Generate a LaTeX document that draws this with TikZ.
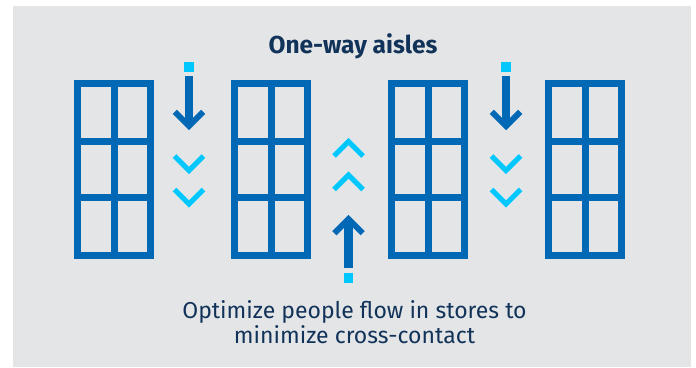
\documentclass[tikz,border=0pt]{standalone}
\usepackage{fontspec}
\setmainfont{Fira Sans}
\usetikzlibrary{calc}
\definecolor{bggray}{HTML}{E4E5E7}
\definecolor{shelfblue}{HTML}{0068B5}
\definecolor{lightcyan}{HTML}{00C7FD}
\definecolor{navytext}{HTML}{123359}
\tikzset{
  x=1pt, y=-1pt,
  shelf/.style={draw=shelfblue, line width=7pt, minimum width=73pt, minimum height=172pt, inner sep=0pt, outer sep=0pt},
  shelfbar/.style={draw=shelfblue, line width=7pt},
  chev/.style={draw=lightcyan, line width=5pt, miter limit=10},
  headchev/.style={draw=shelfblue, line width=6pt, miter limit=10},
  shaft/.style={draw=shelfblue, line width=8.3pt},
  dotsq/.style={fill=lightcyan},
  downflow/.pic={
    \fill[dotsq] (-4.6,62) rectangle (4.6,71.7);
    \draw[shaft] (0,76) -- (0,126);
    \draw[headchev] (-14.2,111.8) -- (0,126) -- (14.2,111.8);
    \draw[chev] (-14.5,156) -- (0,170.5) -- (14.5,156);
    \draw[chev] (-14.5,189.5) -- (0,204) -- (14.5,189.5);
  },
  upflow/.pic={
    \draw[chev] (-14.5,156) -- (0,141.5) -- (14.5,156);
    \draw[chev] (-14.5,189.5) -- (0,175) -- (14.5,189.5);
    \draw[headchev] (-14.2,233.2) -- (0,219) -- (14.2,233.2);
    \draw[shaft] (0,219) -- (0,268.3);
    \fill[dotsq] (-4.6,273.3) rectangle (4.6,283.3);
  },
  titletext/.style={font=\fontsize{24.5}{28}\selectfont\bfseries, text=navytext, inner sep=0pt},
  bodytext/.style={font=\fontsize{23}{25}\selectfont, text=navytext, align=center, inner sep=0pt}
}
\begin{document}
\begin{tikzpicture}
\useasboundingbox (0,0) rectangle (696,367);
\fill[bggray] (13,6) rectangle (691,367);
\foreach \i/\x in {1/114,2/271,3/428,4/585}{
  \node[shelf] (s\i) at (\x,169.5) {};
  \draw[shelfbar] (s\i.north) -- (s\i.south);
  \draw[shelfbar] ($(s\i.north west)!0.338!(s\i.south west)$) -- ($(s\i.north east)!0.338!(s\i.south east)$);
  \draw[shelfbar] ($(s\i.north west)!0.664!(s\i.south west)$) -- ($(s\i.north east)!0.664!(s\i.south east)$);
}
\pic at (189,0) {downflow};
\pic at (348.5,0) {upflow};
\pic at (506,0) {downflow};
\node[titletext, anchor=base] (title) at (353,53.3) {One-way aisles};
\node[bodytext, anchor=base] (body) at (354.5,343.5) {Optimize people flow in stores to\\minimize cross-contact};
\end{tikzpicture}
\end{document}
